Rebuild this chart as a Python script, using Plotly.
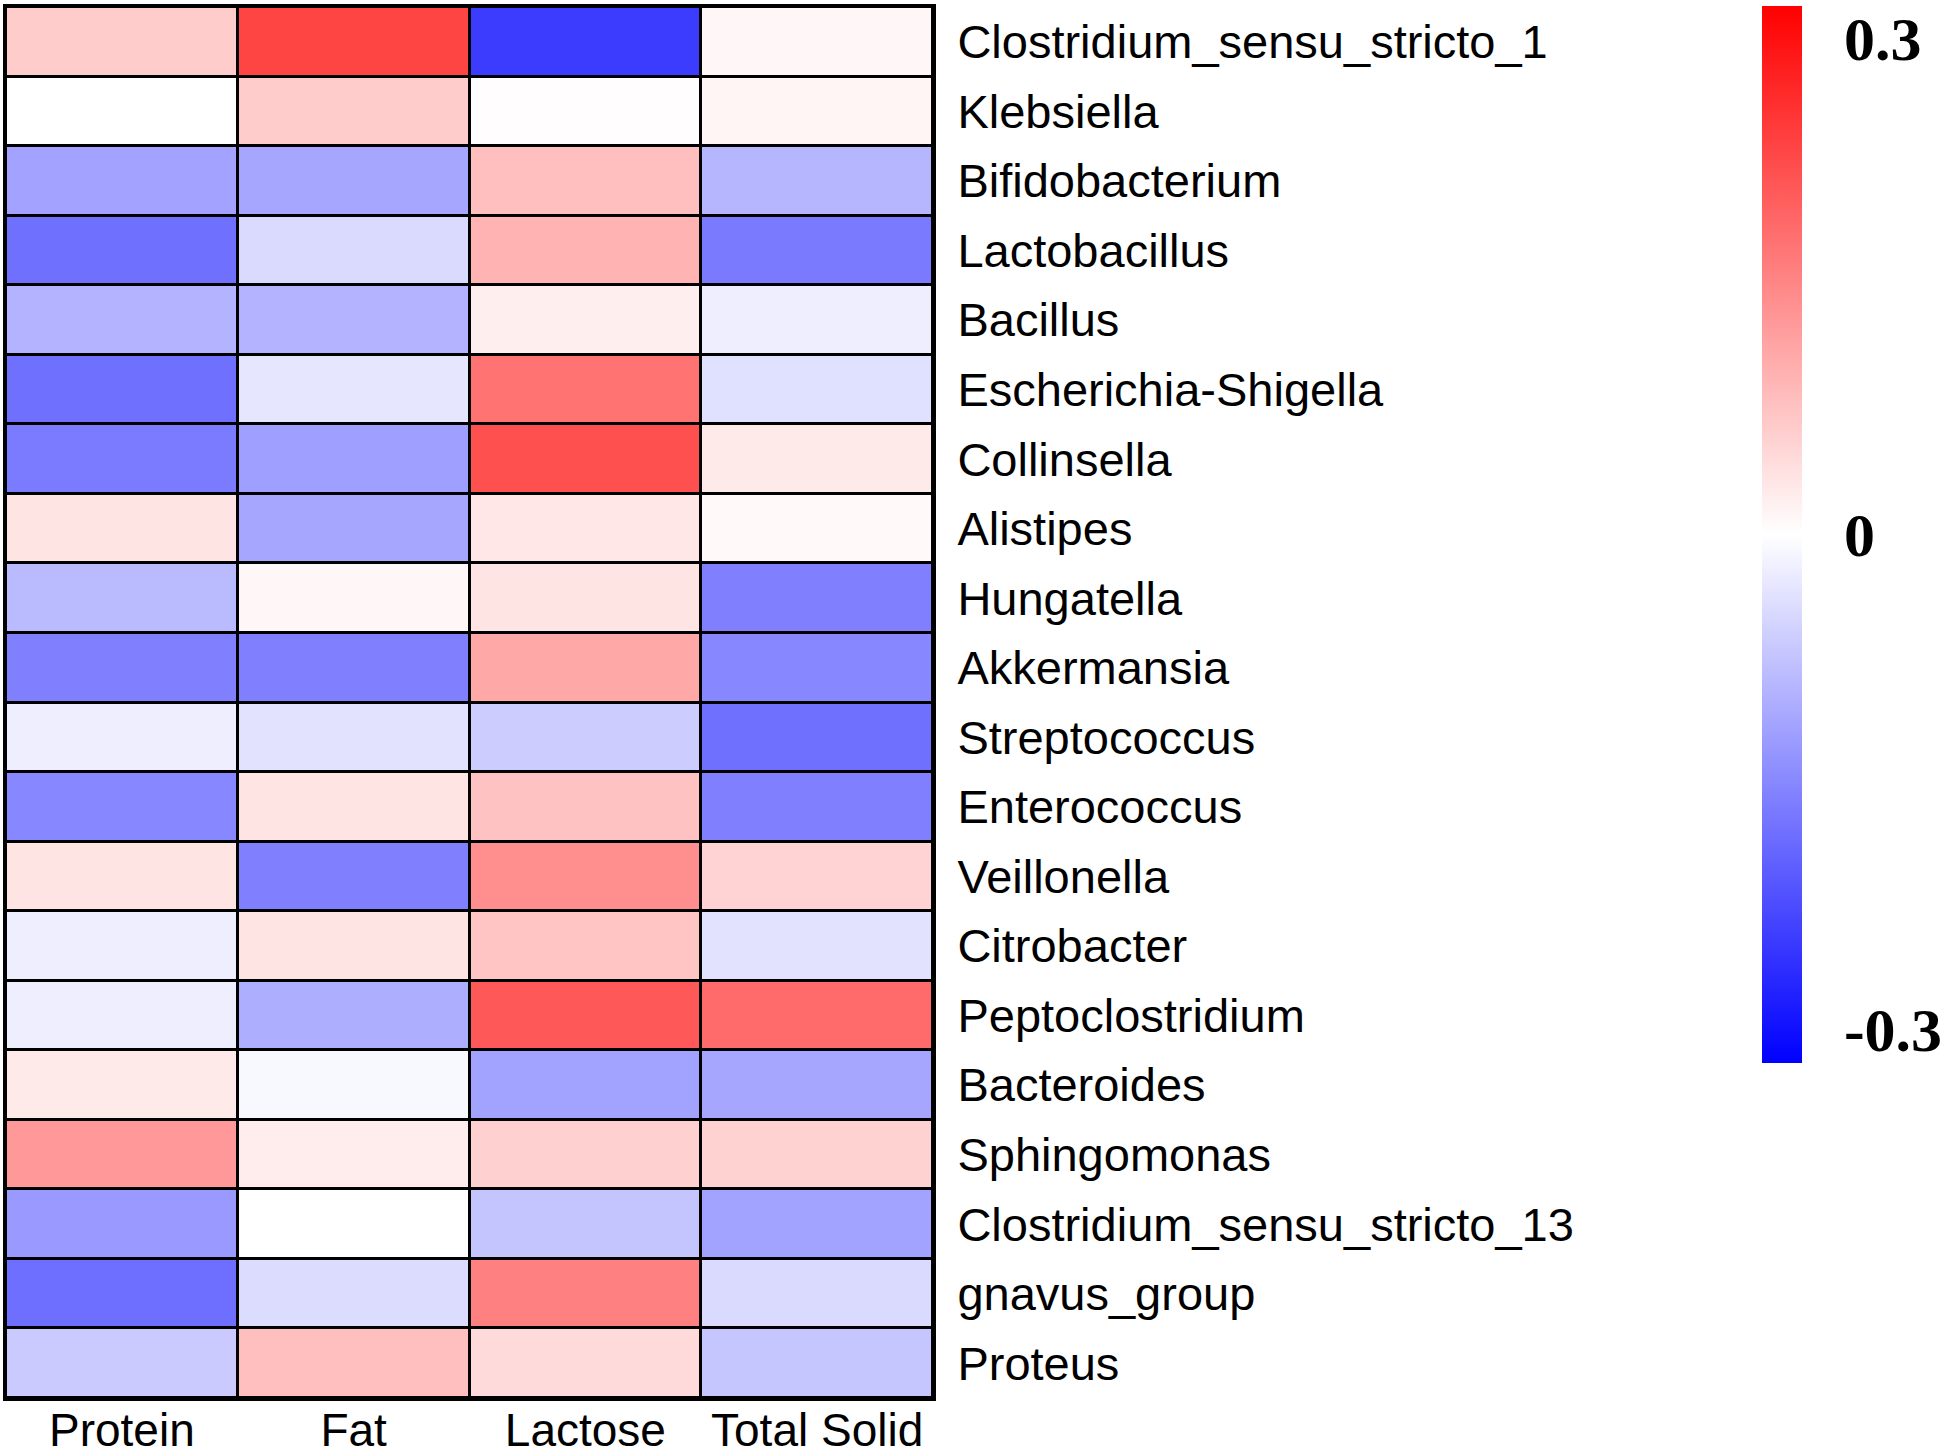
import plotly.graph_objects as go

# milk components (columns) and genera (rows, top to bottom)
components = ["Protein", "Fat", "Lactose", "Total Solid"]
genera = [
    "Clostridium_sensu_stricto_1", "Klebsiella", "Bifidobacterium", "Lactobacillus",
    "Bacillus", "Escherichia-Shigella", "Collinsella", "Alistipes", "Hungatella",
    "Akkermansia", "Streptococcus", "Enterococcus", "Veillonella", "Citrobacter",
    "Peptoclostridium", "Bacteroides", "Sphingomonas", "Clostridium_sensu_stricto_13",
    "gnavus_group", "Proteus",
]

# correlation values, one list per component
protein = [0.064, 0.0, -0.115, -0.180, -0.096, -0.180, -0.166, 0.034, -0.086, -0.160,
           -0.021, -0.150, 0.034, -0.021, -0.021, 0.026, 0.128, -0.128, -0.181, -0.066]
fat = [0.235, 0.064, -0.112, -0.046, -0.096, -0.032, -0.120, -0.112, 0.010, -0.160,
       -0.036, 0.034, -0.160, 0.034, -0.102, -0.009, 0.024, 0.0, -0.044, 0.080]
lactose = [-0.245, 0.003, 0.080, 0.096, 0.021, 0.176, 0.220, 0.030, 0.034, 0.109,
           -0.064, 0.077, 0.140, 0.074, 0.210, -0.117, 0.059, -0.074, 0.160, 0.046]
total_solid = [0.010, 0.012, -0.092, -0.167, -0.021, -0.039, 0.026, 0.008, -0.160, -0.150,
               -0.180, -0.160, 0.055, -0.036, 0.186, -0.112, 0.057, -0.117, -0.047, -0.072]

cbar_ticks = [0.3, 0, -0.3]
cbar_text = ["0.3", "0", "-0.3"]

z = [list(row) for row in zip(protein, fat, lactose, total_solid)]

W, H = 1950, 1456
fig = go.Figure(go.Heatmap(
    z=z, x=components, y=genera,
    zmin=-0.32, zmax=0.32,
    colorscale=[[0, "#0000FF"], [0.5, "#FFFFFF"], [1, "#FF0000"]],
    xgap=3, ygap=3,
    hoverongaps=False,
    colorbar=dict(
        xref="container", x=1762 / W, xanchor="left", xpad=0,
        yref="container", y=1 - 6 / H, yanchor="top", ypad=0,
        len=1057, lenmode="pixels",
        thickness=40, outlinewidth=0,
        tickvals=cbar_ticks, ticktext=cbar_text,
        ticks="outside", ticklen=30, tickcolor="rgba(0,0,0,0)",
        tickfont=dict(family="Liberation Serif, Times New Roman, serif", size=62,
                      color="black", weight="bold"),
    ),
))

fig.update_xaxes(
    side="bottom", showgrid=False, zeroline=False,
    showline=True, mirror=True, linecolor="black", linewidth=3,
    ticks="", ticklabelstandoff=-10,
    tickfont=dict(family="Liberation Sans, Arial, sans-serif", size=46, color="black"),
    automargin=False,
)
fig.update_yaxes(
    side="right", autorange="reversed", showgrid=False, zeroline=False,
    showline=True, mirror=True, linecolor="black", linewidth=3,
    ticks="", ticklabelstandoff=12,
    tickfont=dict(family="Liberation Sans, Arial, sans-serif", size=47, color="black"),
    automargin=False,
)

fig.update_layout(
    width=W, height=H,
    margin=dict(l=6, r=W - 933, t=7, b=H - 1398),
    plot_bgcolor="black", paper_bgcolor="white",
)

# drop the page's default body margin so the figure sits at the corner
fig.write_html("out.html", config={"displayModeBar": False},
               post_script="document.body.style.margin='0';")
